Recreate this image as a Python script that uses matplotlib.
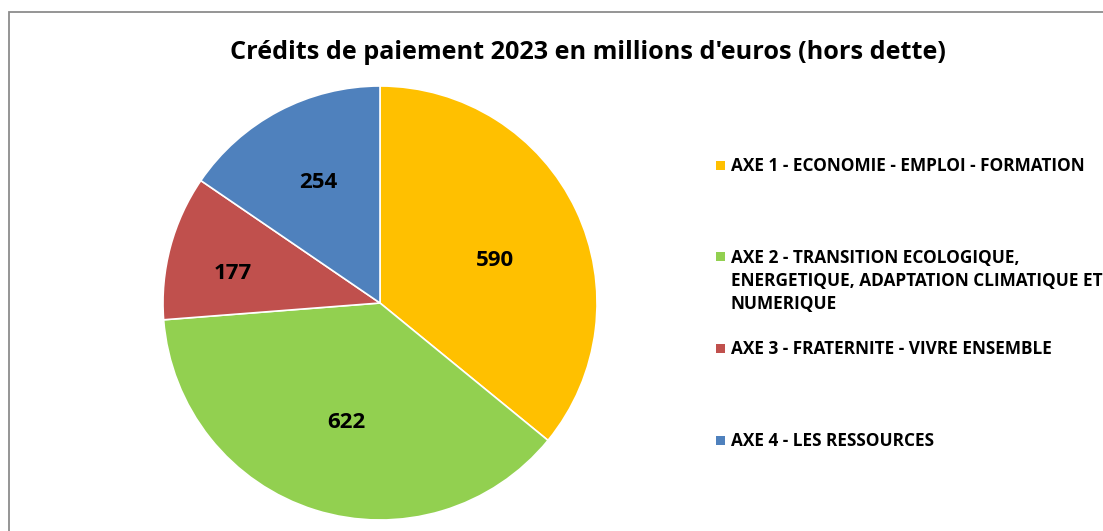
import numpy as np
import matplotlib.pyplot as plt
from matplotlib.patches import Rectangle

# chart data
labels = [
    "AXE 1 - ECONOMIE - EMPLOI - FORMATION",
    "AXE 2 - TRANSITION ECOLOGIQUE,\nENERGETIQUE, ADAPTATION CLIMATIQUE ET\nNUMERIQUE",
    "AXE 3 - FRATERNITE - VIVRE ENSEMBLE",
    "AXE 4 - LES RESSOURCES",
]
values = [590, 622, 177, 254]
colors = ["#FFC000", "#92D050", "#C0504D", "#4F81BD"]
title = "Crédits de paiement 2023 en millions d'euros (hors dette)"

plt.rcParams['font.family'] = ['Open Sans', 'DejaVu Sans']

W, H = 1103, 531
fig = plt.figure(figsize=(W / 100, H / 100), dpi=100)

# outer frame (only top and left edges are visible in the crop)
fig.patches.append(Rectangle((9 / W, -0.2), 1.5, 0.2 + 1 - 12 / H,
                             transform=fig.transFigure, fill=False,
                             edgecolor="#8c8c8c", linewidth=1.3))

cx, cy, r = 380, 303, 217
ax = fig.add_axes([(cx - r) / W, 1 - (cy + r) / H, 2 * r / W, 2 * r / H])
wedges, _ = ax.pie(values, colors=colors, startangle=90, counterclock=False,
                   radius=1, wedgeprops=dict(edgecolor="white", linewidth=1.2))
ax.set_xlim(-1, 1)
ax.set_ylim(-1, 1)
ax.axis("off")

# value labels: radial distance and angle nudge per wedge, like Excel's best fit
label_dist = [0.568, 0.559, 0.694, 0.635]
label_turn = [-3.7, 1.1, 2.3, -1.1]
for w, v, d, t in zip(wedges, values, label_dist, label_turn):
    ang = np.deg2rad((w.theta1 + w.theta2) / 2 + t)
    ax.text(d * np.cos(ang), d * np.sin(ang) - 8.5 / r, str(v),
            ha="center", va="baseline", fontsize=16, fontweight="bold",
            color="black")

fig.text(588 / W, 1 - 59 / H, title, ha="center", va="baseline",
         fontsize=18.2, fontweight="bold")

# legend on the right, one text per line so the baselines land exactly
legend_base = [171, 263, 354, 446]
line_step = 23
for lab, col, b in zip(labels, colors, legend_base):
    fig.patches.append(Rectangle((716 / W, 1 - (b - 1.5) / H), 9 / W, 9 / H,
                                 transform=fig.transFigure, facecolor=col,
                                 edgecolor="none"))
    for i, line in enumerate(lab.split("\n")):
        fig.text(731 / W, 1 - (b + i * line_step) / H, line, ha="left",
                 va="baseline", fontsize=12.4, fontweight="bold")

fig.savefig("out.png", dpi=100)
